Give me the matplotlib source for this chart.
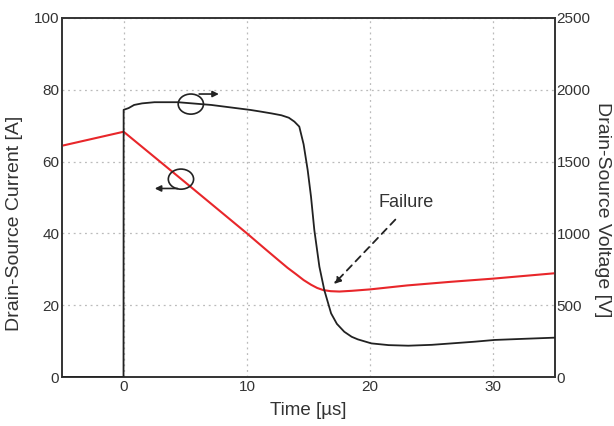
import matplotlib.pyplot as plt
from matplotlib.patches import Ellipse

plt.rcParams['font.family'] = ['Liberation Sans', 'DejaVu Sans']

# Drain-source current [A] (red, left axis)
t_current = [-5, 0, 5, 10, 11.5, 12.5, 13.3, 14, 14.6, 15.2, 15.7, 16.2, 16.8, 17.5,
             18.5, 20, 23, 26.5, 30, 35]
current = [64.4, 68.3, 54.2, 40.0, 35.6, 32.7, 30.4, 28.6, 27.0, 25.7, 24.8, 24.2, 23.9,
           23.8, 24.0, 24.4, 25.5, 26.5, 27.4, 28.9]

# Drain-source voltage [V] (black, right axis)
t_voltage = [-5, -0.01, 0, 0.4, 0.85, 1.5, 2.5, 4.4, 7.1, 10.3, 11.1, 12.0, 12.8, 13.4,
             13.85, 14.25, 14.6, 14.93, 15.2, 15.47, 15.88, 16.28, 16.83, 17.3, 17.9,
             18.5, 19.0, 20.1, 21.5, 23.1, 25, 26.6, 28.5, 30.1, 32.5, 35]
voltage = [0, 0, 1860, 1872, 1894, 1905, 1913, 1913, 1894, 1859, 1848, 1835, 1822, 1805,
           1778, 1743, 1620, 1441, 1256, 1023, 768, 605, 443, 370, 315, 280, 262, 234,
           222, 218, 224, 234, 246, 258, 266, 274]

x_ticks = [0, 10, 20, 30]
left_ticks = [0, 20, 40, 60, 80, 100]
right_ticks = [0, 500, 1000, 1500, 2000, 2500]

fig = plt.figure(figsize=(6.14, 4.26), dpi=100)
ax = fig.add_axes([0.101, 0.115, 0.803, 0.843])
ax2 = ax.twinx()

ax.plot(t_current, current, color='#e8262a', lw=1.5, zorder=3)
ax2.plot(t_voltage, voltage, color='#222222', lw=1.3, zorder=3)

ax.set_xlim(-5, 35)
ax.set_ylim(0, 100)
ax2.set_ylim(0, 2500)
ax.set_xticks(x_ticks)
ax.set_yticks(left_ticks)
ax2.set_yticks(right_ticks)

ax.grid(True, color='#bbbbbb', linestyle=(0, (1.5, 3)), lw=0.9)
ax.set_axisbelow(True)
ax.tick_params(length=0, labelsize=11, colors='#333333', pad=2)
ax2.tick_params(length=0, labelsize=11, colors='#333333', pad=1)
for a in (ax, ax2):
    for s in a.spines.values():
        s.set_color('#333333')
        s.set_linewidth(1.2)

ax.set_xlabel('Time [\u00b5s]', fontsize=13.5, color='#333333', labelpad=6)
# axis titles sit lower than the axes centre in the original
fig.text(15 / 614, 1 - 223 / 426, 'Drain-Source Current [A]', fontsize=14,
         color='#333333', rotation=90, ha='center', va='center')
fig.text(602 / 614, 1 - 210 / 426, 'Drain-Source Voltage [V]', fontsize=14,
         color='#333333', rotation=270, ha='center', va='center')

# circle markers with arrows
ax.add_patch(Ellipse((5.45, 76.0), 2.05, 5.6, fill=False, color='#222222', lw=1.2, zorder=4))
ax.annotate('', xy=(7.95, 78.8), xytext=(5.9, 78.8),
            arrowprops=dict(arrowstyle='-|>', color='#222222', lw=1.2, mutation_scale=9))
ax.add_patch(Ellipse((4.65, 55.1), 2.05, 5.6, fill=False, color='#222222', lw=1.2, zorder=4))
ax.annotate('', xy=(2.3, 52.5), xytext=(4.6, 52.5),
            arrowprops=dict(arrowstyle='-|>', color='#222222', lw=1.2, mutation_scale=9))

# failure annotation
ax.annotate('', xy=(16.9, 25.3), xytext=(22.2, 44.4),
            arrowprops=dict(arrowstyle='-|>', color='#222222', lw=1.3,
                            linestyle=(0, (4, 3)), mutation_scale=10))
ax.text(20.7, 48.7, 'Failure', fontsize=13, color='#333333', ha='left', va='center')

fig.savefig('out.png', dpi=100)
